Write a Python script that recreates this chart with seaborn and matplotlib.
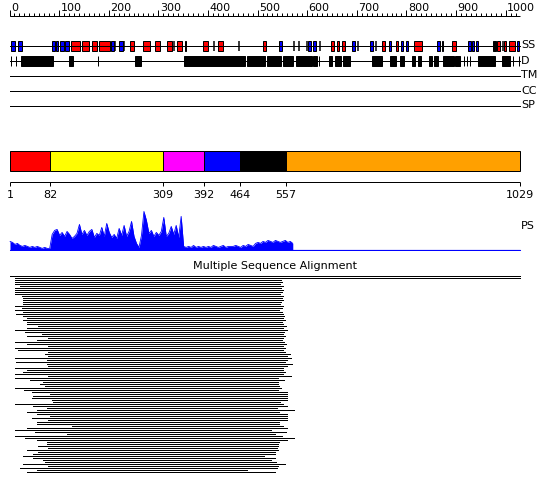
import numpy as np
import pandas as pd
import seaborn as sns
import matplotlib
matplotlib.use('Agg')
import matplotlib.pyplot as plt
from matplotlib.patches import Rectangle

sns.set_theme(style='white')
plt.rcParams['font.family'] = ['DejaVu Sans']

SEQ_LEN = 1029

# secondary structure (residue ranges)
ss_helix = [(123, 142), (147, 161), (167, 176), (181, 203), (243, 250), (269, 283), (294, 303),
            (318, 328), (337, 347), (353, 355), (390, 401), (421, 430), (510, 518), (649, 654),
            (661, 665), (671, 676), (750, 756), (779, 784), (816, 832), (891, 901), (982, 989),
            (996, 1000), (1006, 1019)]
ss_strand = [(4, 11), (18, 25), (86, 91), (93, 98), (102, 110), (112, 120), (205, 211), (221, 228),
             (543, 550), (601, 607), (611, 617), (691, 697), (727, 732), (764, 769), (789, 793),
             (799, 804), (861, 868), (871, 874), (925, 931), (932, 936), (941, 945), (1023, 1026)]
ss_other = [(975, 981)]
ss_ticks = [212, 230, 332, 413, 463, 574, 584, 600, 626, 703, 738, 994]

# disorder
dis_blocks = [(23, 87), (120, 127), (253, 265), (352, 475), (478, 515), (519, 547), (539, 545),
              (552, 572), (577, 599), (600, 606), (606, 609), (612, 619), (643, 650), (656, 668),
              (673, 686), (730, 750), (767, 779), (787, 796), (811, 818), (824, 829), (846, 852),
              (855, 863), (873, 895), (898, 908), (945, 979), (992, 1009)]
dis_ticks = [4, 14, 179, 624, 916, 922, 928, 1014, 1027]

track_names = ['SS', 'D', 'TM', 'CC', 'SP']

# domains
dom_bounds = [1, 82, 309, 392, 464, 557, 1029]
dom_colors = ['#ff0000', '#ffff00', '#ff00ff', '#0000ff', '#000000', '#ffa000']

# profile score (every 5 residues from 1)
ps_score = [9, 8, 6, 7, 5, 4, 5, 4, 3, 4,
            3, 4, 3, 2, 3, 2, 2, 16, 20, 21,
            15, 18, 14, 19, 16, 12, 14, 17, 26, 16,
            20, 15, 19, 21, 13, 17, 15, 23, 14, 27,
            18, 13, 16, 12, 22, 15, 25, 14, 19, 29,
            14, 7, 3, 15, 39, 30, 17, 20, 14, 18,
            15, 19, 33, 14, 17, 24, 16, 25, 13, 34,
            4, 3, 4, 3, 5, 3, 4, 3, 4, 3,
            4, 3, 5, 4, 3, 4, 5, 3, 4, 4,
            4, 5, 4, 3, 5, 4, 6, 5, 4, 7,
            8, 7, 9, 8, 10, 9, 8, 10, 9, 8,
            9, 10, 8, 9, 7]
ps_res = list(range(1, 1 + 5 * len(ps_score), 5))

# multiple sequence alignment rows (start, end residue)
aln_start = [1, 11, 11, 11, 11, 21, 11, 11, 11, 11, 25, 27, 28, 28, 28, 11, 25, 11, 28, 14,
             28, 35, 28, 35, 35, 58, 35, 11, 31, 65, 35, 78, 55, 11, 35, 78, 11, 18, 78, 72,
             78, 11, 75, 14, 75, 78, 11,
             35, 27, 11, 78, 11, 41, 68, 61, 72, 11, 29, 45, 82, 48, 45, 85, 88, 11, 48, 75,
             55, 35, 55, 82, 45, 78, 55, 55, 125, 35, 11, 51, 115, 11, 31, 55, 75, 75, 58, 78,
             35, 58, 48, 27, 48, 68, 72, 27, 78, 21, 55, 35]
aln_end = [1029, 1029, 547, 549, 545, 551, 547, 551, 549, 545, 551, 549, 551, 547, 545, 551,
           549, 544, 549, 551,
           553, 551, 555, 549, 552, 557, 551, 559, 553, 551, 555, 552, 549, 553, 557, 552, 555,
           551, 555, 565, 559, 568, 560, 555, 570, 559, 552,
           551, 555, 551, 567, 542, 554, 542, 542, 544, 547, 542, 560, 560, 560, 560, 560, 545,
           552, 559, 539, 574, 544, 560, 560, 560, 560, 544, 544, 552, 560, 527, 557, 535, 549,
           574, 559, 544, 542, 542, 539, 542, 535, 535, 512, 535, 527, 537, 555, 542, 539, 478,
           535]

W, H = 550, 495
X0, X1 = 10, 520
k = (X1 - X0) / (SEQ_LEN - 1)
px = 0.72  # one pixel in points
xlim = (1 - X0 / k, 1 + (W - X0) / k)


def res_at(xpix):
    return 1 + (xpix - X0) / k


fig = plt.figure(figsize=(5.5, 4.95), dpi=100)
ax = fig.add_axes([0, 0, 1, 1])
ax.set_xlim(*xlim)
ax.set_ylim(H, 0)
ax.axis('off')

fs = 8

# ruler
ax.hlines(15.5, 0, SEQ_LEN, color='black', lw=px)
minor = np.arange(0, SEQ_LEN, 10)
ax.vlines(minor, 12.5, 15.5, color='black', lw=px)
major = np.arange(0, 1001, 100)
ax.vlines(major, 9.5, 15.5, color='black', lw=px)
for m in major:
    ax.text(m + 1.5 / k, 11, str(m), ha='left', va='baseline', fontsize=fs, color='black')

# tracks
track_y = [45.5, 60.5, 75.5, 90.5, 105.5]
for name, ty in zip(track_names, track_y):
    ax.hlines(ty, 1, SEQ_LEN, color='black', lw=px, antialiased=False)
    ax.text(SEQ_LEN + 1 / k, ty, name, ha='left', va='center', fontsize=fs, color='black')

for segs, col in [(ss_helix, '#ff0000'), (ss_strand, '#0000ff'), (ss_other, '#000000')]:
    for a, b in segs:
        ax.add_patch(Rectangle((a, 40.5), b - a, 10, facecolor=col, edgecolor='black', lw=px))
ax.vlines(ss_ticks, 40.5, 50.5, color='black', lw=1.5 * px)

for a, b in dis_blocks:
    ax.add_patch(Rectangle((a, 55.5), b - a, 10, facecolor='black', edgecolor='black', lw=px))
ax.vlines(dis_ticks, 55.5, 65.5, color='black', lw=px)

# domains
for a, b, col in zip(dom_bounds[:-1], dom_bounds[1:], dom_colors):
    ax.add_patch(Rectangle((a, 150.5), b - a, 20, facecolor=col, edgecolor='black', lw=px))
ax.hlines(181.5, 1, SEQ_LEN, color='black', lw=px)
ax.vlines(dom_bounds, 181.5, 186, color='black', lw=px)
for bnd in dom_bounds:
    ax.text(bnd, 195, str(bnd), ha='center', va='center', fontsize=fs, color='black')

# profile
ax.text(SEQ_LEN + 1 / k, 226, 'PS', ha='left', va='center', fontsize=fs, color='black')
ax_ps = fig.add_axes([0, (H - 251) / H, 1, 41 / H])
ax_ps.set_xlim(*xlim)
ax_ps.set_ylim(-0.6, 40.4)
ax_ps.axis('off')
ps_df = pd.DataFrame({'res': ps_res, 'score': ps_score})
ax_ps.fill_between(ps_df['res'], 0, ps_df['score'], color='#0000ff', lw=0)
sns.lineplot(data=ps_df, x='res', y='score', ax=ax_ps, color='#0000ff', lw=0.6)
ax_ps.plot([1, SEQ_LEN], [0, 0], color='#0000ff', lw=px * 1.2)

# alignment
ax.text(res_at(275), 266, 'Multiple Sequence Alignment', ha='center', va='center',
        fontsize=fs, color='black')
aln_y = 275.5 + 2 * np.arange(len(aln_start))
ax.hlines(aln_y, aln_start, aln_end, color='black', lw=px, antialiased=False)

fig.savefig('out.png', dpi=100)
